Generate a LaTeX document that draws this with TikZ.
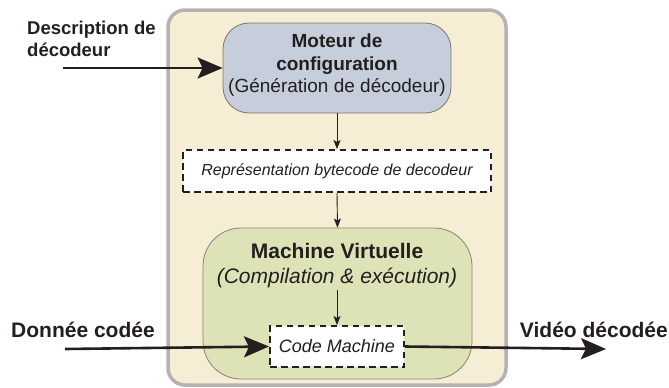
\documentclass[tikz,border=0pt]{standalone}
\usepackage{fontspec}
\setmainfont{Liberation Sans}
\usetikzlibrary{arrows.meta}
\definecolor{outerfill}{HTML}{F6EED4}
\definecolor{outerdraw}{HTML}{B8B1B1}
\definecolor{motfill}{HTML}{C6CDDB}
\definecolor{motdraw}{HTML}{7F7566}
\definecolor{vmfill}{HTML}{DDE3B6}
\definecolor{vmdraw}{HTML}{8B8070}
\definecolor{ink}{HTML}{231F20}
\tikzset{
  bigarrow/.style={draw=ink, line width=2.6pt, -{Stealth[length=25pt,width=21pt,inset=5pt]}},
  smallarrow/.style={draw=ink, line width=0.9pt, -{Stealth[length=9pt,width=7pt,inset=2pt]}},
  dashbox/.style={draw=ink, fill=white, line width=2pt, dash pattern=on 6.5pt off 4.5pt, inner sep=0pt},
  lbl/.style={text=ink, font=\bfseries, inner sep=0pt},
}
\begin{document}
\begin{tikzpicture}[x=1pt,y=-1pt]
\useasboundingbox (0,0) rectangle (669,388);
\draw[outerdraw, fill=outerfill, line width=3.5pt, rounded corners=17pt] (168,10) rectangle (506,385);
\node[draw=motdraw, fill=motfill, line width=0.8pt, rounded corners=26pt,
      minimum width=228pt, minimum height=90pt, inner sep=0pt] (mot) at (337,68) {};
\node[text=ink, align=center, inner sep=0pt, font=\fontsize{19}{22.5}\selectfont] (mottxt) at (337,65.5)
  {\textbf{Moteur de}\\\textbf{configuration}\\(Génération de décodeur)};
\node[dashbox, minimum width=308pt, minimum height=42pt, text=ink,
      font=\fontsize{16}{18}\selectfont\itshape] (rep) at (337,171)
  {Représentation bytecode de decodeur};
\node[draw=vmdraw, fill=vmfill, line width=0.8pt, rounded corners=38pt,
      minimum width=269pt, minimum height=151pt, inner sep=0pt] (vm) at (337.5,303.5) {};
\node[text=ink, align=center, inner sep=0pt, font=\fontsize{21}{25}\selectfont] (vmtxt) at (337,266)
  {\textbf{Machine Virtuelle}\\\textit{(Compilation \& exécution)}};
\coordinate (vmout) at (337,290);
\node[dashbox, minimum width=134pt, minimum height=41pt, text=ink,
      font=\fontsize{18}{18}\selectfont\itshape] (code) at (337,346.5) {Code Machine};
\node[lbl, align=left, font=\fontsize{18.5}{22}\selectfont\bfseries, anchor=north west] (desc) at (27,21)
  {Description de\\décodeur};
\node[lbl, font=\fontsize{21}{24}\selectfont\bfseries, anchor=west] (don) at (11,330) {Donnée codée};
\node[lbl, font=\fontsize{21}{24}\selectfont\bfseries, anchor=east] (vid) at (668,330) {Vidéo décodée};
\coordinate (descin) at (63,68);
\coordinate (donin) at (65,349);
\coordinate (vidout) at (606,349);
\draw[bigarrow] (descin) -- (mot.west);
\draw[bigarrow] (donin) -- (code.west);
\draw[bigarrow] (code.east) -- (vidout);
\draw[smallarrow] (mot.south) -- (rep.north);
\draw[smallarrow] (rep.south) -- (vm.north);
\draw[smallarrow] (vmout) -- (code.north);
\end{tikzpicture}
\end{document}
